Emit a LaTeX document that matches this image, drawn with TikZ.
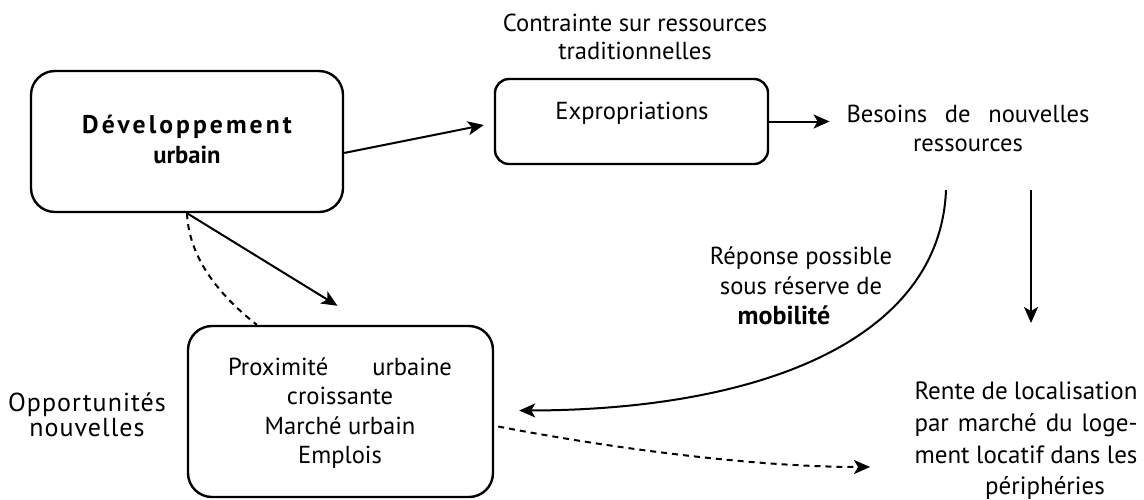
\documentclass[tikz,border=0pt]{standalone}
\usepackage{fontspec}
\setmainfont{PT Sans}
\usetikzlibrary{arrows.meta,calc}

\begin{document}
\begin{tikzpicture}[x=0.5pt,y=-0.5pt,
  txt/.style={inner sep=0pt, align=center, font=\fontsize{12.3}{15}\selectfont},
  frame/.style={draw, line width=1.2pt, rounded corners=#1, inner sep=0pt},
  link/.style={line width=1pt, -{Stealth[length=8pt,width=7pt,inset=2pt]}},
  dashlink/.style={line width=1pt, dash pattern=on 3pt off 2.5pt},
]
\useasboundingbox (0,0) rectangle (1144,499);

% framed blocks
\node[frame=12pt, minimum width=156pt, minimum height=70.5pt] (dev) at (187,141.5) {};
\node[frame=7pt, minimum width=136.5pt, minimum height=42.5pt] (expr) at (631.5,121.5) {};
\node[frame=12pt, minimum width=152.5pt, minimum height=85.5pt] (prox) at (340.5,411.5) {};

% texts
\node[txt] (devtxt) at (187,139)
  {{\fontsize{12.8}{15}\selectfont\bfseries\addfontfeature{LetterSpace=12}Développement}\\\textbf{urbain}};
\node[txt] (exprtxt) at (632,113) {Expropriations};
\node[txt, font=\fontsize{12.3}{14}\selectfont] (contr) at (635,37)
  {Contrainte sur ressources\\traditionnelles};
\node[txt, font=\fontsize{12.3}{14.5}\selectfont] (besoins) at (968,128)
  {\makebox[121.5pt][s]{Besoins de nouvelles}\\ressources};
\node[txt, font=\fontsize{12.3}{14.8}\selectfont] (proxtxt) at (340,413)
  {\makebox[112pt][s]{Proximité urbaine}\\croissante\\Marché urbain\\Emplois};
\node[txt] (rep) at (801,286)
  {Réponse possible\\sous réserve de\\{\fontsize{13}{15}\selectfont\textbf{mobilité}}\hspace*{17pt}};
\node[txt, font=\fontsize{12.5}{15.8}\selectfont] (rente) at (1026,441)
  {\makebox[111.5pt][s]{Rente de localisation}\\
   \makebox[111.5pt][s]{par marché du loge-}\\
   \makebox[111.5pt][s]{ment locatif dans les}\\
   \hspace*{19pt}périphéries};
\node[txt, font=\fontsize{13}{12.5}\selectfont\addfontfeature{LetterSpace=4}] (opp) at (87,415)
  {Opportunités\\nouvelles};

% free ends of connectors
\coordinate (fork) at (946,190);
\coordinate (downstart) at (1031,190);
\coordinate (downend) at (1031,323);
\coordinate (rentein) at (870,467);

% connectors
\draw[link] ($(dev.north east)!0.58!(dev.south east)$) -- ([xshift=-5pt,yshift=-1.75pt]expr.west);
\draw[link, shorten >=8.25pt] (expr.east) -- (expr.east -| besoins.west);
\draw[link] (dev.south) -- ($(prox.north)+(-3,-19)$);
\draw[dashlink] (dev.south) .. controls ($(dev.south)+(2,48)$) and ($(prox.north west)+(37,-26)$) .. ($(prox.north west)+(70,0)$);
\draw[link] (fork) .. controls (940,340) and (760,410) .. ($(prox.east)+(25,-1)$);
\draw[link] (downstart) -- (downend);
\draw[dashlink, -{Stealth[length=8pt,width=7pt,inset=2pt]}] ($(prox.east)+(4,15)$) .. controls (620,450) and (760,467) .. (rentein);
\end{tikzpicture}
\end{document}
